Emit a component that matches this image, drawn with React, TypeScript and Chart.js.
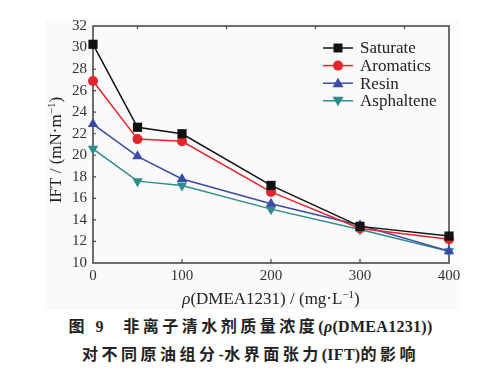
import React, { useEffect, useRef } from "react";
import { Chart, registerables } from "chart.js";

Chart.register(...registerables);

const xValues = [0, 50, 100, 200, 300, 400];
const saturate = [30.3, 22.6, 22.0, 17.2, 13.4, 12.5];
const aromatics = [26.9, 21.5, 21.3, 16.6, 13.2, 12.2];
const resin = [22.9, 19.9, 17.8, 15.5, 13.5, 11.1];
const asphaltene = [20.6, 17.6, 17.2, 15.0, 13.1, 11.1];
const seriesNames = ["Saturate", "Aromatics", "Resin", "Asphaltene"];
const bottomTickValues = [100, 200, 300];
const topTickValues = [50, 150, 250, 350];

const colors = ["#111111", "#e3242b", "#3a4aa5", "#2f8c8c"];
const styles = ["rect", "circle", "triangle", "triangle"];
const rotations = [0, 0, 0, 180];
const radii = [6.5, 5, 6, 6];

const SERIF = "'Liberation Serif', 'Times New Roman', serif";

type Seg = { t: string; font: string; dy?: number };

function drawRich(ctx: CanvasRenderingContext2D, segs: Seg[], cx: number, cy: number) {
  let total = 0;
  for (const s of segs) {
    ctx.font = s.font;
    total += ctx.measureText(s.t).width;
  }
  let x = cx - total / 2;
  ctx.textAlign = "left";
  ctx.textBaseline = "middle";
  for (const s of segs) {
    ctx.font = s.font;
    ctx.fillText(s.t, x, cy + (s.dy || 0));
    x += ctx.measureText(s.t).width;
  }
}

function drawMarker(ctx: CanvasRenderingContext2D, i: number, x: number, y: number) {
  ctx.fillStyle = colors[i];
  ctx.beginPath();
  if (i === 0) {
    ctx.rect(x - 4.5, y - 4.5, 9, 9);
  } else if (i === 1) {
    ctx.arc(x, y, 5, 0, Math.PI * 2);
  } else if (i === 2) {
    ctx.moveTo(x, y - 5.5);
    ctx.lineTo(x - 5.5, y + 4);
    ctx.lineTo(x + 5.5, y + 4);
    ctx.closePath();
  } else {
    ctx.moveTo(x, y + 5.5);
    ctx.lineTo(x - 5.5, y - 4);
    ctx.lineTo(x + 5.5, y - 4);
    ctx.closePath();
  }
  ctx.fill();
}

const framePlugin = {
  id: "frame",
  beforeDraw(chart: any) {
    const ctx = chart.ctx as CanvasRenderingContext2D;
    ctx.save();
    ctx.fillStyle = "#fafafa";
    ctx.fillRect(45, 20, 415, 290);
    ctx.restore();
  },
  beforeDatasetsDraw(chart: any) {
    const ctx = chart.ctx as CanvasRenderingContext2D;
    const a = chart.chartArea;
    const xs = chart.scales.x;
    const ys = chart.scales.y;
    ctx.save();
    ctx.strokeStyle = "#4a4a4a";
    ctx.lineWidth = 1.6;
    ctx.strokeRect(a.left, a.top, a.right - a.left, a.bottom - a.top);
    ctx.lineWidth = 1.2;
    ctx.beginPath();
    for (const v of bottomTickValues) {
      const px = xs.getPixelForValue(v);
      ctx.moveTo(px, a.bottom);
      ctx.lineTo(px, a.bottom - 4);
    }
    for (const v of topTickValues) {
      const px = xs.getPixelForValue(v);
      ctx.moveTo(px, a.top);
      ctx.lineTo(px, a.top + 3);
    }
    for (let v = 12; v < 32; v += 2) {
      const py = ys.getPixelForValue(v);
      ctx.moveTo(a.left, py);
      ctx.lineTo(a.left + 3, py);
    }
    ctx.stroke();
    ctx.restore();
  },
  afterDraw(chart: any) {
    const ctx = chart.ctx as CanvasRenderingContext2D;
    const a = chart.chartArea;
    ctx.save();
    // legend
    for (let i = 0; i < seriesNames.length; i++) {
      const y = 48 + i * 17.6;
      ctx.strokeStyle = colors[i];
      ctx.lineWidth = 1.5;
      ctx.beginPath();
      ctx.moveTo(323, y);
      ctx.lineTo(353, y);
      ctx.stroke();
      drawMarker(ctx, i, 338, y);
      ctx.fillStyle = "#222";
      ctx.font = `17px ${SERIF}`;
      ctx.textAlign = "left";
      ctx.textBaseline = "middle";
      ctx.fillText(seriesNames[i], 360, y + 1);
    }
    // x title
    ctx.fillStyle = "#222";
    drawRich(
      ctx,
      [
        { t: "ρ", font: `italic 17px ${SERIF}` },
        { t: "(DMEA1231) / (mg·L", font: `17px ${SERIF}` },
        { t: "−1", font: `11px ${SERIF}`, dy: -5 },
        { t: ")", font: `17px ${SERIF}` },
      ],
      (a.left + a.right) / 2,
      300
    );
    // y title
    ctx.translate(57, 150);
    ctx.rotate(-Math.PI / 2);
    drawRich(
      ctx,
      [
        { t: "IFT / (mN·m", font: `17px ${SERIF}` },
        { t: "−1", font: `11px ${SERIF}`, dy: -5 },
        { t: ")", font: `17px ${SERIF}` },
      ],
      0,
      0
    );
    ctx.restore();
  },
};

export default function App() {
  const ref = useRef<HTMLCanvasElement | null>(null);

  useEffect(() => {
    if (!ref.current) return;
    const series = [saturate, aromatics, resin, asphaltene];
    const chart = new Chart(ref.current, {
      type: "line",
      data: {
        datasets: series.map((vals, i) => ({
          label: seriesNames[i],
          data: vals.map((v, j) => ({ x: xValues[j], y: v })),
          borderColor: colors[i],
          backgroundColor: colors[i],
          borderWidth: 1.5,
          pointStyle: styles[i] as any,
          pointRotation: rotations[i],
          pointRadius: radii[i],
          pointBorderWidth: 0,
          pointBackgroundColor: colors[i],
          tension: 0,
          clip: false as any,
        })),
      },
      options: {
        animation: false,
        responsive: false,
        devicePixelRatio: 1,
        layout: { padding: { left: 0, top: 26, right: 52, bottom: 0 } },
        plugins: {
          legend: { display: false },
          tooltip: { enabled: false },
          title: { display: false },
        },
        scales: {
          x: {
            type: "linear",
            min: 0,
            max: 400,
            grid: { display: false, drawTicks: false },
            border: { display: false },
            ticks: {
              stepSize: 100,
              padding: 4,
              color: "#333",
              font: { family: SERIF, size: 15 },
              maxRotation: 0,
            },
            afterFit(scale: any) {
              scale.height = 49;
            },
          },
          y: {
            min: 10,
            max: 32,
            grid: { display: false, drawTicks: false },
            border: { display: false },
            ticks: {
              stepSize: 2,
              padding: 6,
              color: "#333",
              font: { family: SERIF, size: 15 },
            },
            afterFit(scale: any) {
              scale.width = 93;
            },
          },
        },
      },
      plugins: [framePlugin],
    });
    return () => chart.destroy();
  }, []);

  const cap: React.CSSProperties = {
    position: "absolute",
    left: 0,
    width: 501,
    textAlign: "center",
    fontFamily: "'Liberation Serif', 'Noto Sans CJK SC', serif",
    fontWeight: "bold",
    fontSize: 16,
    letterSpacing: 3.5,
    lineHeight: "20px",
    color: "#222",
    whiteSpace: "nowrap",
  };
  const lat: React.CSSProperties = { letterSpacing: 0.3 };

  return (
    <div style={{ position: "fixed", left: 0, top: 0, width: 501, height: 378, background: "#fff", overflow: "hidden" }}>
      <canvas ref={ref} width={501} height={312} style={{ display: "block", width: 501, height: 312 }} />
      <div style={{ ...cap, top: 317 }}>
        图 <span style={lat}>9</span>
        {"\u3000"}非离子清水剂质量浓度<span style={lat}>(<i>ρ</i>(DMEA1231))</span>
      </div>
      <div style={{ ...cap, top: 345 }}>
        对不同原油组分<span style={lat}>-</span>水界面张力<span style={lat}>(IFT)</span>的影响
      </div>
    </div>
  );
}
